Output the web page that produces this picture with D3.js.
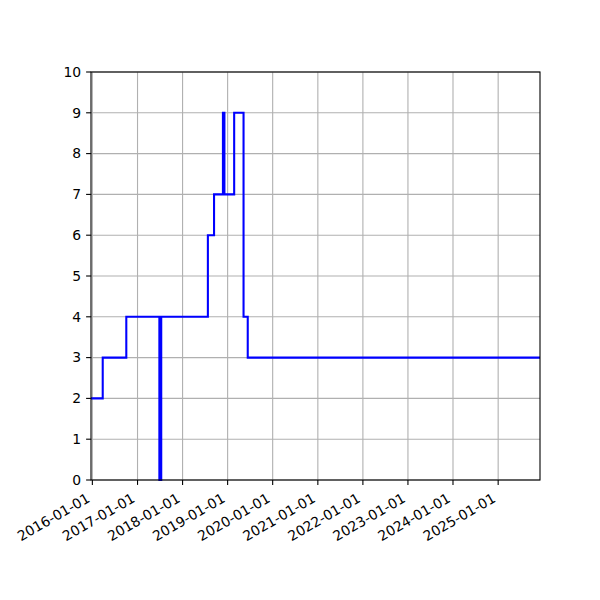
<!DOCTYPE html>
<html>
<head>
<meta charset="utf-8">
<script src="https://cdn.jsdelivr.net/npm/d3@7"></script>
<style>
  body { margin: 0; background: #fff; }
  text { font-family: "DejaVu Sans", sans-serif; font-size: 13.9px; fill: #000; }
</style>
</head>
<body>
<div id="chart"></div>
<script>
"use strict"

// step data (value holds until the next date)
const dates = ["2015-12-21", "2016-03-25", "2016-10-02", "2017-06-27", "2017-07-12",
	"2018-07-25", "2018-09-13", "2018-11-24", "2018-12-06", "2019-02-23",
	"2019-05-10", "2019-06-13", "2025-12-06"];
const values = [2, 3, 4, 0, 4, 6, 7, 9, 7, 9, 4, 3, 3];
const xTickLabels = ["2016-01-01", "2017-01-01", "2018-01-01", "2019-01-01", "2020-01-01",
	"2021-01-01", "2022-01-01", "2023-01-01", "2024-01-01", "2025-01-01"];
const yTicks = [0, 1, 2, 3, 4, 5, 6, 7, 8, 9, 10];

let parse = d3.timeParse("%Y-%m-%d");
let data = dates.map((d, i) => ({date: parse(d), value: values[i]}));

let totalWidth = 600, totalHeight = 600;
let margin = {left: 91, right: 60, top: 72, bottom: 120};
let width = totalWidth - margin.left - margin.right;
let height = totalHeight - margin.top - margin.bottom;

let svg = d3.select("#chart").append("svg")
	.attr("width", totalWidth)
	.attr("height", totalHeight);

let g = svg.append("g")
	.attr("transform", "translate(" + margin.left + "," + margin.top + ")");

let xScale = d3.scaleTime()
	.domain([data[0].date, data[data.length - 1].date])
	.range([0, width]);
let yScale = d3.scaleLinear()
	.domain([0, 10])
	.range([height, 0]);

let tickDates = xTickLabels.map(parse);

// grid
g.append("g").attr("class", "grid").selectAll("line.vx")
	.data(tickDates)
	.enter().append("line")
		.attr("x1", d => xScale(d)).attr("x2", d => xScale(d))
		.attr("y1", 0).attr("y2", height)
		.style("stroke", "#b0b0b0").style("stroke-width", 1.1);
g.append("g").attr("class", "grid").selectAll("line.hy")
	.data(yTicks)
	.enter().append("line")
		.attr("x1", 0).attr("x2", width)
		.attr("y1", d => yScale(d)).attr("y2", d => yScale(d))
		.style("stroke", "#b0b0b0").style("stroke-width", 1.1);

// line
let line = d3.line()
	.x(d => xScale(d.date))
	.y(d => yScale(d.value))
	.curve(d3.curveStepAfter);

g.append("path")
	.datum(data)
	.attr("d", line)
	.style("fill", "none")
	.style("stroke", "#0000ff")
	.style("stroke-width", 2.08)
	.style("stroke-linejoin", "miter");

// spines
g.append("rect")
	.attr("x", 0).attr("y", 0)
	.attr("width", width).attr("height", height)
	.style("fill", "none").style("stroke", "#000").style("stroke-width", 1.1);

// y axis
let yAxis = g.append("g").attr("class", "y_axis");
yAxis.selectAll("line")
	.data(yTicks)
	.enter().append("line")
		.attr("x1", -4.9).attr("x2", 0)
		.attr("y1", d => yScale(d)).attr("y2", d => yScale(d))
		.style("stroke", "#000").style("stroke-width", 1.1);
yAxis.selectAll("text")
	.data(yTicks)
	.enter().append("text")
		.attr("x", -9.8)
		.attr("y", d => yScale(d))
		.attr("dy", "0.35em")
		.attr("text-anchor", "end")
		.text(d => d);

// x axis
let xAxis = g.append("g").attr("class", "x_axis")
	.attr("transform", `translate(0, ${height})`);
xAxis.selectAll("line")
	.data(tickDates)
	.enter().append("line")
		.attr("x1", d => xScale(d)).attr("x2", d => xScale(d))
		.attr("y1", 0).attr("y2", 4.9)
		.style("stroke", "#000").style("stroke-width", 1.1);

// rotated labels, aligned like matplotlib: bbox right at tick, bbox top below tick
xAxis.selectAll("text")
	.data(tickDates)
	.enter().append("text")
		.attr("text-anchor", "end")
		.attr("transform", d => `translate(${xScale(d)}, 9.8)rotate(-30)`)
		.text((d, i) => xTickLabels[i])
		.each(function(d) {
			let bb = this.getBBox();
			let a = Math.PI / 6;
			// rightmost x: end-bottom corner; topmost y: end-top corner
			let right = (bb.x + bb.width) * Math.cos(a) + (bb.y + bb.height) * Math.sin(a);
			let top = -(bb.x + bb.width) * Math.sin(a) + bb.y * Math.cos(a);
			d3.select(this).attr("transform",
				`translate(${xScale(d) - right}, ${9.8 - top})rotate(-30)`);
		});
</script>
</body>
</html>
